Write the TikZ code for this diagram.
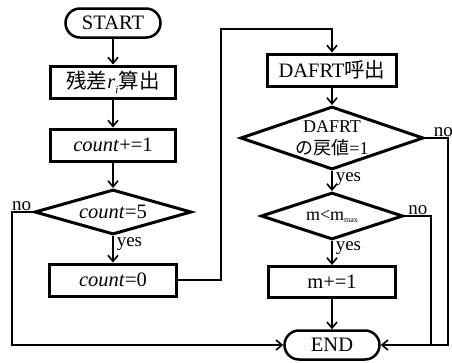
\documentclass[tikz,border=0pt]{standalone}
\usepackage{fontspec}
\setmainfont{Liberation Serif}
\newfontfamily\jp[Scale=1.0]{Noto Sans CJK JP}
\usetikzlibrary{shapes.geometric,shapes.misc,arrows.meta}
\begin{document}
\begin{tikzpicture}[x=1pt,y=-1pt,
        font=\fontsize{20.5}{23}\selectfont,
        box/.style={draw,line width=3pt,minimum width=125pt,minimum height=32pt,inner sep=0pt},
        term/.style={draw,rounded rectangle,line width=2.5pt,minimum width=95pt,minimum height=29pt,inner sep=0pt},
        dia/.style={draw,diamond,line width=3pt,inner sep=0pt},
        flow/.style={line width=1.6pt,-{Straight Barb[length=6pt,width=10pt]}},
        lbl/.style={font=\fontsize{19}{19}\selectfont,inner sep=1pt}]
        \useasboundingbox (0,0) rectangle (452,362);
        % left column
        \node[term] (start) at (113,23) {START};
        \node[box] (resid) at (113,82) {{\jp 残差}\textit{r}\raisebox{-5pt}{\fontsize{11}{11}\selectfont\textit{i}}{\jp 算出}};
        \node[box] (cnt) at (113,145) {\textit{count}+=1};
        \node[dia,aspect=3.5,minimum width=157pt,minimum height=45pt] (chk) at (113,212) {\textit{count}=5};
        \node[box,minimum width=127pt] (reset) at (113,280) {\textit{count}=0};
        % right column
        \node[box,minimum width=129pt] (call) at (332,70) {DAFRT{\jp 呼出}};
        \node[dia,aspect=2.9,minimum width=183pt,minimum height=63pt,inner sep=-3pt,align=center,
            font=\fontsize{18}{22}\selectfont] (ret) at (332,138) {DAFRT\\{\jp の戻値}=1};
        \node[dia,aspect=3,minimum width=142pt,minimum height=47pt,font=\fontsize{18}{18}\selectfont] (cmp) at (332,216)
            {m<m\raisebox{-2pt}{\fontsize{8}{8}\selectfont max}};
        \node[box,minimum width=127pt,minimum height=31pt] (inc) at (332,282) {m+=1};
        \node[term] (end) at (332,345) {END};
        % turning points
        \coordinate (up) at (221,29);
        \coordinate (lft) at (12,345);
        \coordinate (rgt) at (448,345);
        \coordinate (join) at (431,345);
        % connectors
        \draw[flow] (start) -- (resid);
        \draw[flow] (resid) -- (cnt);
        \draw[flow] (cnt) -- (chk);
        \draw[flow] (chk) -- node[lbl,anchor=west,xshift=2pt,pos=.3] {yes} (reset);
        \draw[flow] (reset.east) -| (up) -| (call.north);
        \draw[flow] (chk.west) node[lbl,anchor=south east] {no} -| (lft) -- (end.west);
        \draw[flow] (call) -- (ret);
        \draw[flow] (ret) -- node[lbl,anchor=west,xshift=2pt,pos=.4] {yes} (cmp);
        \draw[flow] (ret.east) node[lbl,anchor=south west,xshift=7pt] {no} -| (rgt) -- (end.east);
        \draw[flow] (cmp) -- node[lbl,anchor=west,xshift=2pt,pos=.3] {yes} (inc);
        \draw[line width=1.6pt] (cmp.east) node[lbl,anchor=south west,xshift=2pt] {no} -| (join);
        \draw[flow] (inc) -- (end);
\end{tikzpicture}
\end{document}
